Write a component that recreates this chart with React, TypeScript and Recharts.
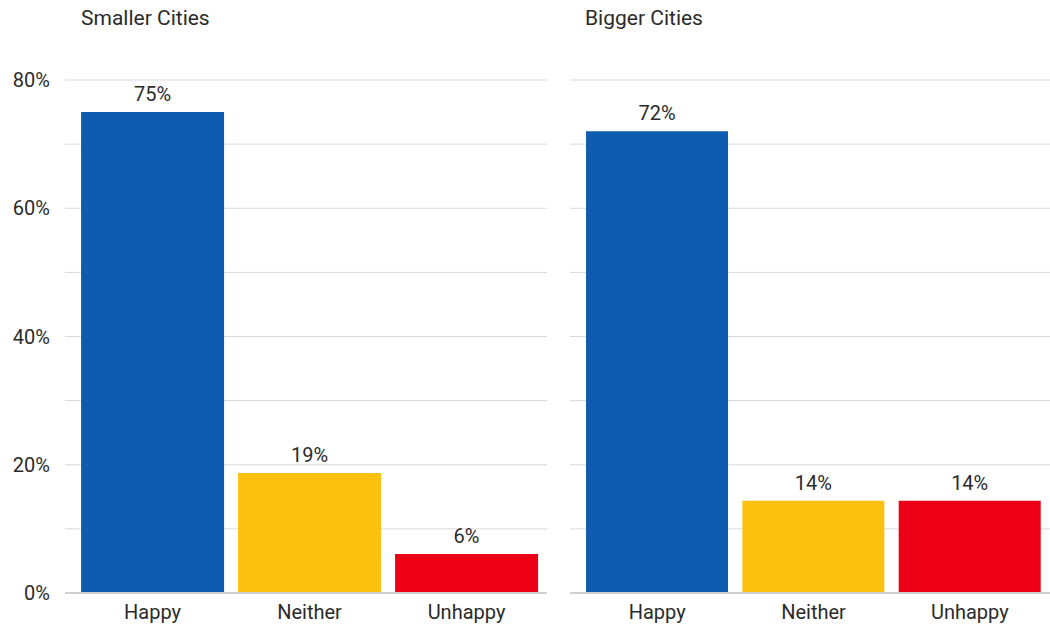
import { Bar, BarChart, CartesianGrid, Cell, LabelList, XAxis, YAxis } from 'recharts';

const categories = ['Happy', 'Neither', 'Unhappy'];
const smallerValues = [75, 18.7, 6.1];
const biggerValues = [72, 14.4, 14.4];
const yTicks = [0, 10, 20, 30, 40, 50, 60, 70, 80];
const barColors = ['#0e5bb0', '#fcc00f', '#ed0016'];

const FONT = 'Roboto, sans-serif';
const TEXT = '#2b2b2b';

const smallerData = categories.map((name, i) => ({ name, value: smallerValues[i] }));
const biggerData = categories.map((name, i) => ({ name, value: biggerValues[i] }));

interface PanelProps {
  title: string;
  data: { name: string; value: number }[];
  showAxis: boolean;
}

// one panel = one small bar chart
function Panel({ title, data, showAxis }: PanelProps) {
  const width = showAxis ? 555 : 495;
  return (
    <div style={{ position: 'relative', width, height: 627 }}>
      <div
        style={{
          position: 'absolute',
          top: 6,
          left: showAxis ? 81 : 30,
          fontFamily: FONT,
          fontSize: 21,
          color: TEXT,
          lineHeight: '24px',
        }}
      >
        {title}
      </div>
      <BarChart
        width={width}
        height={627}
        data={data}
        margin={{ top: 80, right: showAxis ? 8 : 0, bottom: 0, left: showAxis ? 0 : 15 }}
        barCategoryGap="4.5%"
      >
        <CartesianGrid vertical={false} stroke="#d9d9d9" strokeWidth={1} />
        <XAxis
          dataKey="name"
          height={34}
          padding={{ left: 9, right: 2 }}
          tickLine={false}
          axisLine={{ stroke: '#d0d0d0', strokeWidth: 2 }}
          tick={{ fill: TEXT, fontSize: 20, fontFamily: FONT }}
          tickMargin={6}
          interval={0}
        />
        <YAxis
          hide={!showAxis}
          width={65}
          domain={[0, 80]}
          ticks={yTicks}
          interval={0}
          axisLine={false}
          tickLine={false}
          tickSize={0}
          tickMargin={15}
          tickFormatter={(v: number) => (v % 20 === 0 ? `${v}%` : '')}
          tick={{ fill: TEXT, fontSize: 20, fontFamily: FONT }}
        />
        <Bar dataKey="value" isAnimationActive={false}>
          {data.map((d, i) => (
            <Cell key={d.name} fill={barColors[i]} />
          ))}
          <LabelList
            dataKey="value"
            position="top"
            offset={11}
            formatter={(v: number) => `${Math.round(v)}%`}
            style={{ fill: TEXT, fontSize: 20, fontFamily: FONT }}
          />
        </Bar>
      </BarChart>
    </div>
  );
}

export default function App() {
  return (
    <div style={{ position: 'absolute', top: 0, left: 0, width: 1050, height: 627, background: '#fff', display: 'flex' }}>
      <Panel title="Smaller Cities" data={smallerData} showAxis={true} />
      <Panel title="Bigger Cities" data={biggerData} showAxis={false} />
    </div>
  );
}
